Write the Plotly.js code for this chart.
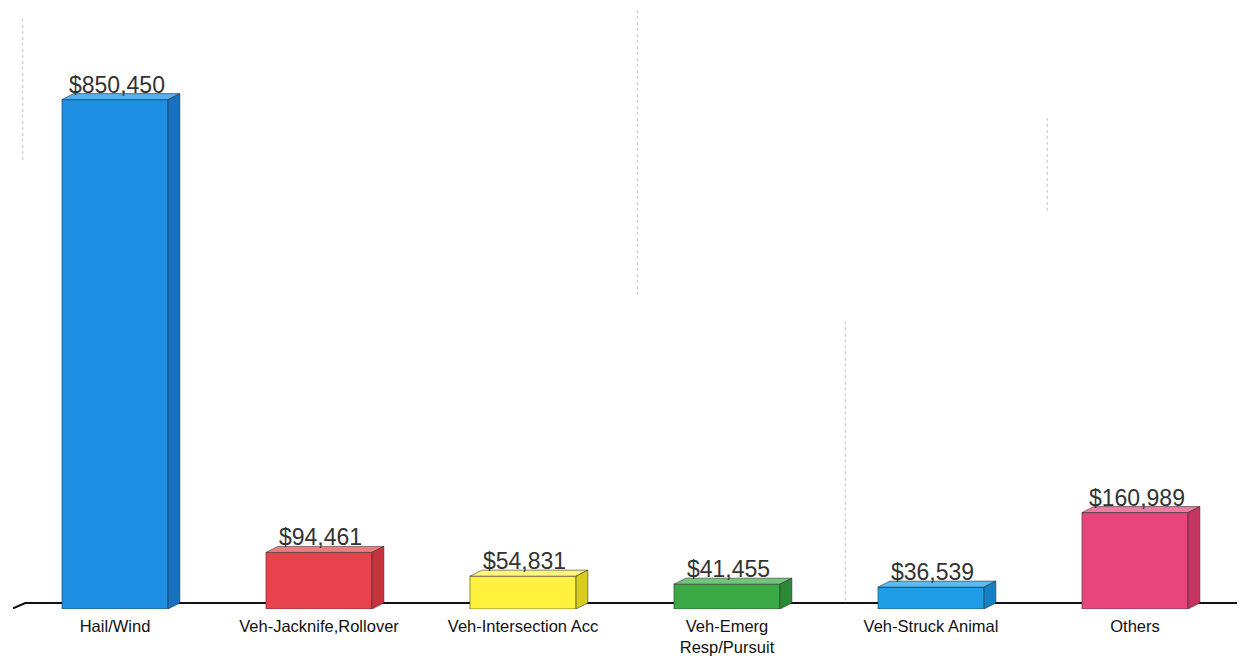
<!DOCTYPE html>
<html>
<head>
<meta charset="utf-8">
<script src="https://cdn.plot.ly/plotly-3.0.1.min.js"></script>
<style>html,body{margin:0;padding:0;background:#fff;}#chart{width:1249px;height:663px;}</style>
</head>
<body>
<div id="chart"></div>
<script>
// ---- data ----
const categories = ["Hail/Wind", "Veh-Jacknife,Rollover", "Veh-Intersection Acc", "Veh-Emerg<br>Resp/Pursuit", "Veh-Struck Animal", "Others"];
const values = [850450, 94461, 54831, 41455, 36539, 160989];
const valueLabels = ["$850,450", "$94,461", "$54,831", "$41,455", "$36,539", "$160,989"];
const frontColors = ["#1f8fe3", "#e8424c", "#fff23c", "#3aa844", "#1f9ee8", "#e8457c"];
const topColors   = ["#5ab0ee", "#f07a80", "#fff680", "#72c47a", "#5cbcf0", "#f07aa2"];
const sideColors  = ["#1672bf", "#c7323c", "#d8cc20", "#2b8a35", "#1680c4", "#c83462"];

// ---- geometry (styling) ----
const idx = categories.map((_, i) => i);
const halfW = 0.26;
const dx = 0.058;     // depth in category units
const dy = 10000;     // depth in value units
const yMax = 1000000;

const shapes = [];
// faint scan guide lines (decoration)
const guides = [[0.008, 0.985, 0.75], [0.51, 1.0, 0.52], [0.68, 0.48, 0.01], [0.845, 0.82, 0.66]];
guides.forEach(g => shapes.push({type: "line", xref: "paper", yref: "paper", layer: "below",
  x0: g[0], x1: g[0], y0: g[1], y1: g[2], line: {color: "rgba(120,120,120,0.45)", width: 1, dash: "dot"}}));
// floor back edge
shapes.push({type: "path", xref: "x", yref: "y", layer: "below",
  path: `M -0.52 -2000 L -0.44 ${dy} L 5.6 ${dy}`,
  line: {color: "#111", width: 2}});
values.forEach((v, i) => {
  const x0 = i - halfW, x1 = i + halfW;
  shapes.push({type: "path", xref: "x", yref: "y", layer: "above",
    path: `M ${x0} ${v} L ${x0 + dx} ${v + dy} L ${x1 + dx} ${v + dy} L ${x1} ${v} Z`,
    fillcolor: topColors[i], line: {color: "rgba(40,40,40,0.55)", width: 1}});
  shapes.push({type: "path", xref: "x", yref: "y", layer: "above",
    path: `M ${x1} 0 L ${x1 + dx} ${dy} L ${x1 + dx} ${v + dy} L ${x1} ${v} Z`,
    fillcolor: sideColors[i], line: {color: "rgba(40,40,40,0.55)", width: 1}});
});

const annotations = values.map((v, i) => ({
  x: i + dx / 2 - 0.02, y: v + dy, xref: "x", yref: "y",
  text: valueLabels[i], showarrow: false, yanchor: "bottom", yshift: -6,
  font: {family: "Liberation Sans, Arial, sans-serif", size: 23, color: "#333"}
}));

const trace = {
  type: "bar", x: idx, y: values, width: halfW * 2,
  marker: {color: frontColors, line: {color: "rgba(40,40,40,0.55)", width: 1}},
  hoverinfo: "skip"
};

const layout = {
  width: 1249, height: 663,
  margin: {l: 13, r: 12, t: 10, b: 54},
  paper_bgcolor: "#fff", plot_bgcolor: "#fff",
  showlegend: false,
  xaxis: {range: [-0.5, 5.5], tickvals: idx, ticktext: categories,
    showgrid: false, zeroline: false, showline: false, ticks: "",
    ticklabelstandoff: 5,
    tickfont: {family: "Liberation Sans, Arial, sans-serif", size: 16.5, color: "#111"}},
  yaxis: {range: [0, yMax], visible: false, showgrid: false, zeroline: false},
  shapes: shapes,
  annotations: annotations
};

Plotly.newPlot("chart", [trace], layout, {displayModeBar: false, staticPlot: true});
</script>
</body>
</html>
